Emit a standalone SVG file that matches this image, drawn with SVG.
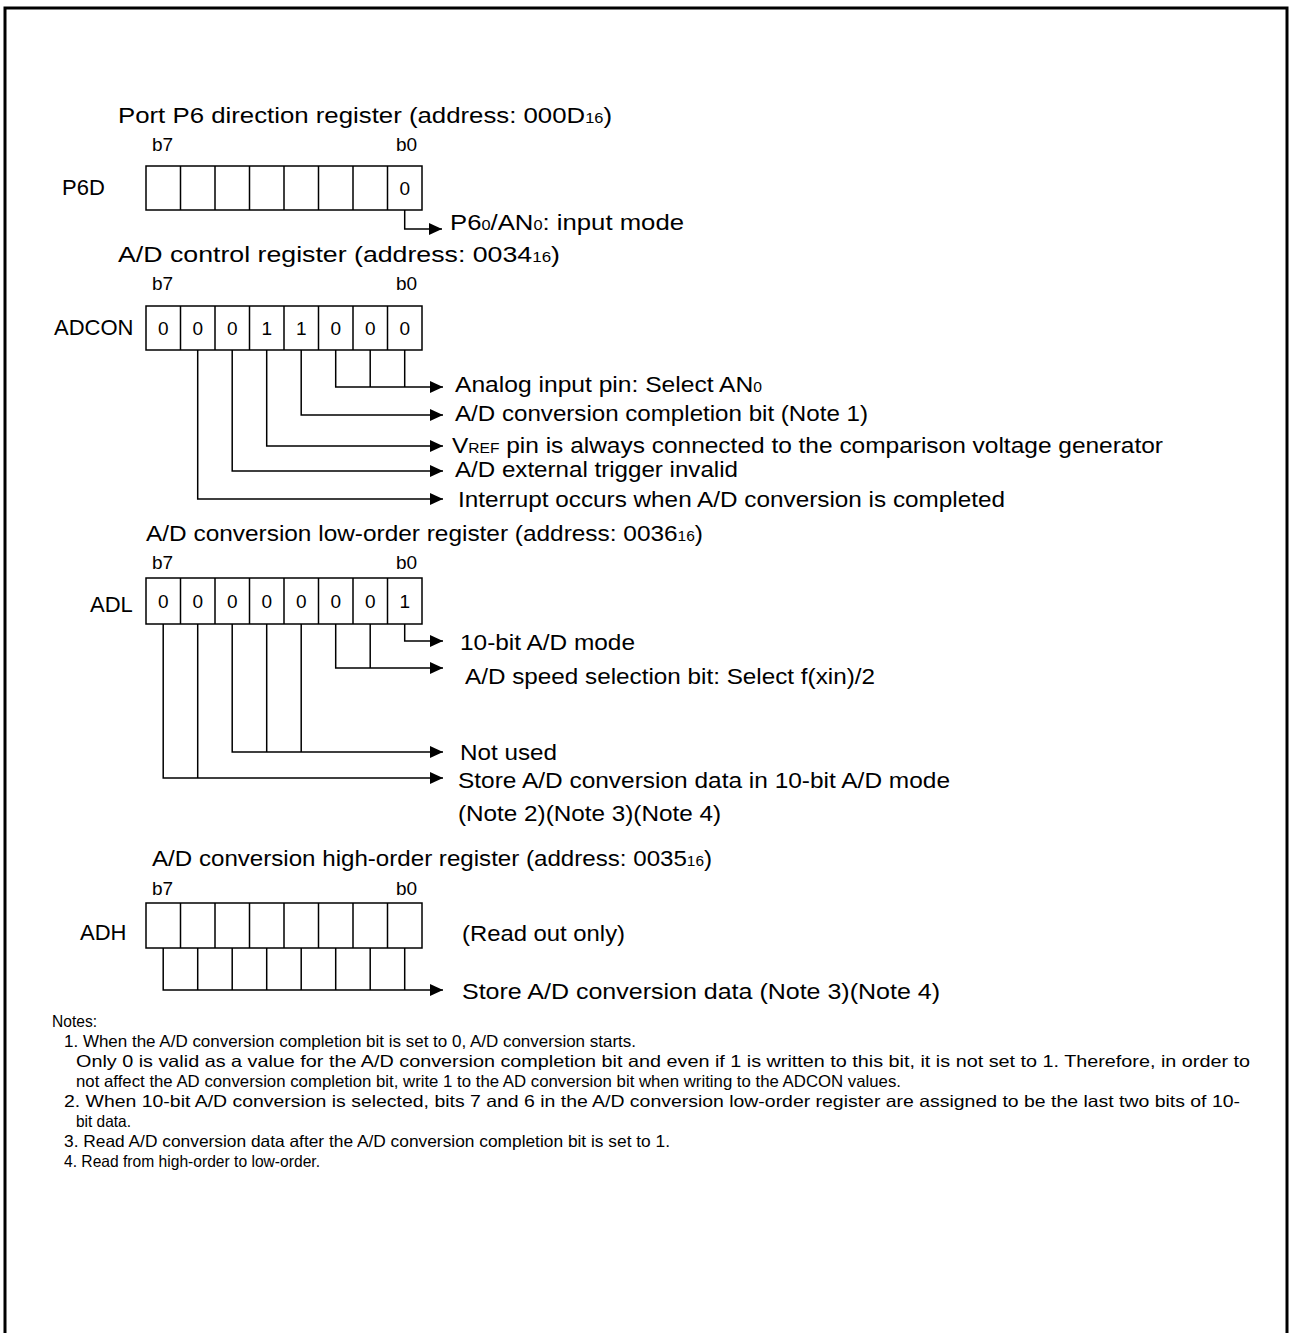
<svg xmlns="http://www.w3.org/2000/svg" width="1289" height="1333" viewBox="0 0 1289 1333">
<defs>
<marker id="arr" markerUnits="userSpaceOnUse" markerWidth="14" markerHeight="12" refX="13" refY="6" orient="auto">
<path d="M0,0 L13,6 L0,12 Z" fill="#000"/>
</marker>
<style>
text{font-family:"Liberation Sans",Arial,sans-serif;fill:#000}
.t{font-size:22px}
.b{font-size:19px}
.v{font-size:19px;text-anchor:middle}
.n{font-size:16.5px}
.s{font-size:14px}
.box{fill:#fff;stroke:#000;stroke-width:1.5}
.cell{stroke:#000;stroke-width:1.5}
.ln{fill:none;stroke:#000;stroke-width:1.5}
.ar{fill:none;stroke:#000;stroke-width:1.5;marker-end:url(#arr)}
</style>
</defs>
<rect x="0" y="0" width="1289" height="1333" fill="#fff"/>
<rect x="5" y="8" width="1282" height="1340" fill="none" stroke="#000" stroke-width="3"/>

<g id="p6d">
<text class="t" x="118" y="123" textLength="494" lengthAdjust="spacingAndGlyphs">Port P6 direction register (address: 000D<tspan class="s">16</tspan>)</text>
<text class="b" x="152" y="151">b7</text>
<text class="b" x="396" y="151">b0</text>
<text class="t" x="62" y="195">P6D</text>
<rect class="box" x="146" y="166" width="276" height="44"/>
<path class="cell" d="M180.5,166V210M215,166V210M249.5,166V210M284,166V210M318.5,166V210M353,166V210M387.5,166V210"/>
<text class="v" x="404.7" y="195">0</text>
</g>

<g id="adcon">
<text class="t" x="118" y="262" textLength="442" lengthAdjust="spacingAndGlyphs">A/D control register (address: 0034<tspan class="s">16</tspan>)</text>
<text class="b" x="152" y="290">b7</text>
<text class="b" x="396" y="290">b0</text>
<text class="t" x="54" y="335">ADCON</text>
<rect class="box" x="146" y="306" width="276" height="44"/>
<path class="cell" d="M180.5,306V350M215,306V350M249.5,306V350M284,306V350M318.5,306V350M353,306V350M387.5,306V350"/>
<text class="v" x="163.2" y="335">0</text>
<text class="v" x="197.7" y="335">0</text>
<text class="v" x="232.2" y="335">0</text>
<text class="v" x="266.7" y="335">1</text>
<text class="v" x="301.2" y="335">1</text>
<text class="v" x="335.7" y="335">0</text>
<text class="v" x="370.2" y="335">0</text>
<text class="v" x="404.7" y="335">0</text>
</g>

<g id="adl">
<text class="t" x="146" y="541" textLength="557" lengthAdjust="spacingAndGlyphs">A/D conversion low-order register (address: 0036<tspan class="s">16</tspan>)</text>
<text class="b" x="152" y="569">b7</text>
<text class="b" x="396" y="569">b0</text>
<text class="t" x="90" y="612">ADL</text>
<rect class="box" x="146" y="578" width="276" height="46"/>
<path class="cell" d="M180.5,578V624M215,578V624M249.5,578V624M284,578V624M318.5,578V624M353,578V624M387.5,578V624"/>
<text class="v" x="163.2" y="608">0</text>
<text class="v" x="197.7" y="608">0</text>
<text class="v" x="232.2" y="608">0</text>
<text class="v" x="266.7" y="608">0</text>
<text class="v" x="301.2" y="608">0</text>
<text class="v" x="335.7" y="608">0</text>
<text class="v" x="370.2" y="608">0</text>
<text class="v" x="404.7" y="608">1</text>
</g>

<g id="adh">
<text class="t" x="152" y="866" textLength="560" lengthAdjust="spacingAndGlyphs">A/D conversion high-order register (address: 0035<tspan class="s">16</tspan>)</text>
<text class="b" x="152" y="895">b7</text>
<text class="b" x="396" y="895">b0</text>
<text class="t" x="80" y="940">ADH</text>
<rect class="box" x="146" y="903" width="276" height="45"/>
<path class="cell" d="M180.5,903V948M215,903V948M249.5,903V948M284,903V948M318.5,903V948M353,903V948M387.5,903V948"/>
<text class="t" x="462" y="941" textLength="163" lengthAdjust="spacingAndGlyphs">(Read out only)</text>
</g>

<g id="connectors">
<path class="ar" d="M404.7,210V229H442"/>
<path class="ar" d="M335.7,350V387H443"/>
<path class="ln" d="M370.2,350V387M404.7,350V387"/>
<path class="ar" d="M301.2,350V415H443"/>
<path class="ar" d="M266.7,350V446H443"/>
<path class="ar" d="M232.2,350V471H443"/>
<path class="ar" d="M197.7,350V499H443"/>
<path class="ar" d="M404.7,624V641H443"/>
<path class="ar" d="M335.7,624V668H443"/>
<path class="ln" d="M370.2,624V668"/>
<path class="ar" d="M232.2,624V752H443"/>
<path class="ln" d="M266.7,624V752M301.2,624V752"/>
<path class="ar" d="M163.2,624V778H443"/>
<path class="ln" d="M197.7,624V778"/>
<path class="ar" d="M163.2,948V990H443"/>
<path class="ln" d="M197.7,948V990M232.2,948V990M266.7,948V990M301.2,948V990M335.7,948V990M370.2,948V990M404.7,948V990"/>
</g>

<g id="labels">
<text class="t" x="450" y="230" textLength="234" lengthAdjust="spacingAndGlyphs">P6<tspan class="s">0</tspan>/AN<tspan class="s">0</tspan>: input mode</text>
<text class="t" x="455" y="392" textLength="307" lengthAdjust="spacingAndGlyphs">Analog input pin: Select AN<tspan class="s">0</tspan></text>
<text class="t" x="455" y="421" textLength="413" lengthAdjust="spacingAndGlyphs">A/D conversion completion bit (Note 1)</text>
<text class="t" x="452" y="453" textLength="711" lengthAdjust="spacingAndGlyphs">V<tspan class="s">REF</tspan> pin is always connected to the comparison voltage generator</text>
<text class="t" x="455" y="477" textLength="283" lengthAdjust="spacingAndGlyphs">A/D external trigger invalid</text>
<text class="t" x="458" y="507" textLength="547" lengthAdjust="spacingAndGlyphs">Interrupt occurs when A/D conversion is completed</text>
<text class="t" x="460" y="650" textLength="175" lengthAdjust="spacingAndGlyphs">10-bit A/D mode</text>
<text class="t" x="465" y="684" textLength="410" lengthAdjust="spacingAndGlyphs">A/D speed selection bit: Select f(xin)/2</text>
<text class="t" x="460" y="760" textLength="97" lengthAdjust="spacingAndGlyphs">Not used</text>
<text class="t" x="458" y="788" textLength="492" lengthAdjust="spacingAndGlyphs">Store A/D conversion data in 10-bit A/D mode</text>
<text class="t" x="458" y="821" textLength="263" lengthAdjust="spacingAndGlyphs">(Note 2)(Note 3)(Note 4)</text>
<text class="t" x="462" y="999" textLength="478" lengthAdjust="spacingAndGlyphs">Store A/D conversion data (Note 3)(Note 4)</text>
</g>

<g id="notes">
<text class="n" x="52" y="1027" textLength="45" lengthAdjust="spacingAndGlyphs">Notes:</text>
<text class="n" x="64" y="1047" textLength="572" lengthAdjust="spacingAndGlyphs">1. When the A/D conversion completion bit is set to 0, A/D conversion starts.</text>
<text class="n" x="76" y="1067" textLength="1174" lengthAdjust="spacingAndGlyphs">Only 0 is valid as a value for the A/D conversion completion bit and even if 1 is written to this bit, it is not set to 1. Therefore, in order to</text>
<text class="n" x="76" y="1087" textLength="825" lengthAdjust="spacingAndGlyphs">not affect the AD conversion completion bit, write 1 to the AD conversion bit when writing to the ADCON values.</text>
<text class="n" x="64" y="1107" textLength="1176" lengthAdjust="spacingAndGlyphs">2. When 10-bit A/D conversion is selected, bits 7 and 6 in the A/D conversion low-order register are assigned to be the last two bits of 10-</text>
<text class="n" x="76" y="1127" textLength="55" lengthAdjust="spacingAndGlyphs">bit data.</text>
<text class="n" x="64" y="1147" textLength="606" lengthAdjust="spacingAndGlyphs">3. Read A/D conversion data after the A/D conversion completion bit is set to 1.</text>
<text class="n" x="64" y="1167" textLength="256" lengthAdjust="spacingAndGlyphs">4. Read from high-order to low-order.</text>
</g>
</svg>
